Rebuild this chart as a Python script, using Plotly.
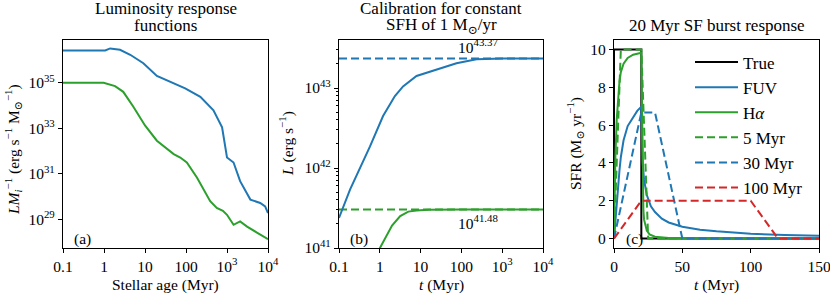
import numpy as np
import plotly.graph_objects as go

# ---------------- data ----------------
# Panel (a): luminosity response functions (log10 age [Myr], log10 L/M)
fuv_resp_logage = [-1.0, 0.03, 0.15, 0.39, 0.64, 0.96, 1.29, 1.61, 1.98, 2.35, 2.67, 2.88, 3.0, 3.16, 3.32, 3.57, 3.81, 3.93, 4.0]
fuv_resp_logL = [36.42, 36.42, 36.51, 36.45, 36.23, 35.86, 35.30, 35.04, 34.75, 34.38, 33.79, 33.04, 31.71, 31.49, 30.67, 29.86, 29.71, 29.56, 29.27]
ha_resp_logage = [-1.0, -0.01, 0.27, 0.47, 0.72, 1.0, 1.29, 1.53, 1.70, 1.86, 2.02, 2.27, 2.43, 2.59, 2.75, 2.90, 3.0, 3.16, 3.32, 3.49, 3.73, 3.97, 4.0]
ha_resp_logL = [35.0, 35.0, 34.85, 34.6, 33.93, 33.12, 32.45, 32.08, 31.86, 31.71, 31.49, 30.82, 30.30, 29.79, 29.49, 29.37, 29.19, 28.75, 28.90, 28.67, 28.41, 28.16, 28.12]

# Panel (b): cumulative luminosity for constant SFH (log10 t [Myr], log10 L)
fuv_cum_logt = [-1.0, -0.73, -0.24, 0.08, 0.37, 0.57, 0.90, 1.39, 1.88, 2.37, 3.02, 4.0]
fuv_cum_logL = [41.375, 41.73, 42.27, 42.65, 42.90, 43.02, 43.15, 43.23, 43.31, 43.36, 43.37, 43.37]
ha_cum_logt = [-0.05, 0.0, 0.15, 0.3, 0.5, 0.7, 0.9, 1.2, 2.0, 4.0]
ha_cum_logL = [40.95, 41.0, 41.15, 41.28, 41.40, 41.455, 41.47, 41.478, 41.48, 41.48]
fuv_calib_log = 43.37
ha_calib_log = 41.48
calib_t = [0.1, 1e4]

# Panel (c): 20 Myr burst response
true_t = [0, 0, 20, 20, 150]
true_sfr = [0, 10, 10, 0, 0]
fuv_t = [0, 1, 2, 3, 4, 5, 7, 10, 14, 17, 20, 20.5, 21, 22, 24, 27, 30, 35, 40, 50, 63, 75, 100, 125, 150]
fuv_sfr = [0, 1.0, 1.9, 2.7, 3.6, 4.3, 5.2, 5.95, 6.45, 6.75, 6.97, 5.0, 4.0, 3.1, 2.3, 1.7, 1.4, 1.05, 0.85, 0.62, 0.47, 0.38, 0.25, 0.19, 0.15]
ha_t = [0, 0.5, 1, 2, 3, 4, 5, 7, 10, 14, 20, 20.5, 21, 21.5, 22, 23, 24, 26, 30, 40, 60, 150]
ha_sfr = [0, 2.5, 4.3, 6.3, 7.5, 8.3, 8.8, 9.25, 9.55, 9.72, 9.82, 7.0, 3.0, 1.5, 1.0, 0.6, 0.42, 0.22, 0.1, 0.03, 0.01, 0.0]
avg5_t = [0, 5, 20, 25, 150]
avg5_sfr = [0, 10, 10, 0, 0]
avg30_t = [0, 20, 30, 50, 150]
avg30_sfr = [0, 6.67, 6.67, 0, 0]
avg100_t = [0, 20, 100, 120, 150]
avg100_sfr = [0, 2, 2, 0, 0]

log_x_ticks = [0.1, 1.0, 10.0, 100.0, 1000.0, 10000.0]
log_x_ticktext = ["0.1", "1", "10", "100", "10<sup>3</sup>", "10<sup>4</sup>"]
a_y_ticks = [1e29, 1e31, 1e33, 1e35]
a_y_ticktext = ["10<sup>29</sup>", "10<sup>31</sup>", "10<sup>33</sup>", "10<sup>35</sup>"]
b_y_ticks = [1e41, 1e42, 1e43]
b_y_ticktext = ["10<sup>41</sup>", "10<sup>42</sup>", "10<sup>43</sup>"]
b_y_minor = [float(k) * 10.0 ** e for e in (41, 42, 43) for k in range(2, 10)]

# ---------------- style ----------------
BLUE = "#1f77b4"
GREEN = "#2ca02c"
RED = "#d62728"
FONT = "Liberation Serif, Times New Roman, DejaVu Serif, serif"
W, H = 830, 296
LW = 2
DASH = "8px,4px"

def px_x(p):
    return p / W

def px_y(p):
    return 1 - p / H

fig = go.Figure()

def pw(a):
    return [10.0 ** v for v in a]

# panel a
fig.add_trace(go.Scatter(x=pw(fuv_resp_logage), y=pw(fuv_resp_logL), mode="lines",
                         line=dict(color=BLUE, width=LW), xaxis="x", yaxis="y", showlegend=False))
fig.add_trace(go.Scatter(x=pw(ha_resp_logage), y=pw(ha_resp_logL), mode="lines",
                         line=dict(color=GREEN, width=LW), xaxis="x", yaxis="y", showlegend=False))

# panel b
fig.add_trace(go.Scatter(x=calib_t, y=[10.0 ** fuv_calib_log] * 2, mode="lines",
                         line=dict(color=BLUE, width=LW, dash=DASH), xaxis="x2", yaxis="y2", showlegend=False))
fig.add_trace(go.Scatter(x=calib_t, y=[10.0 ** ha_calib_log] * 2, mode="lines",
                         line=dict(color=GREEN, width=LW, dash=DASH), xaxis="x2", yaxis="y2", showlegend=False))
fig.add_trace(go.Scatter(x=pw(fuv_cum_logt), y=pw(fuv_cum_logL), mode="lines",
                         line=dict(color=BLUE, width=LW), xaxis="x2", yaxis="y2", showlegend=False))
fig.add_trace(go.Scatter(x=pw(ha_cum_logt), y=pw(ha_cum_logL), mode="lines",
                         line=dict(color=GREEN, width=LW), xaxis="x2", yaxis="y2", showlegend=False))

# panel c
series_c = [
    ("True", true_t, true_sfr, "black", "solid"),
    ("FUV", fuv_t, fuv_sfr, BLUE, "solid"),
    ("H<i>α</i>", ha_t, ha_sfr, GREEN, "solid"),
    ("5 Myr", avg5_t, avg5_sfr, GREEN, DASH),
    ("30 Myr", avg30_t, avg30_sfr, BLUE, DASH),
    ("100 Myr", avg100_t, avg100_sfr, RED, DASH),
]
for i, (name, t, s, c, d) in enumerate(series_c):
    fig.add_trace(go.Scatter(x=t, y=s, mode="lines", name=name,
                             line=dict(color=c, width=LW, dash=d), xaxis="x3", yaxis="y3"))

axis_common = dict(showline=True, mirror=True, linecolor="black", linewidth=1.3,
                   ticks="outside", ticklen=4, tickwidth=1, tickcolor="black",
                   showgrid=False, zeroline=False, automargin=False,
                   ticklabeloverflow="allow",
                   tickfont=dict(family=FONT, size=15.5, color="black"))

top, bottom = 40, 248
ydom = [px_y(bottom), px_y(top)]
panels = [(63, 268), (339, 543), (614, 819)]

fig.update_layout(
    width=W, height=H, margin=dict(l=0, r=0, t=0, b=0),
    paper_bgcolor="white", plot_bgcolor="white",
    font=dict(family=FONT, color="black"),
    xaxis=dict(domain=[px_x(panels[0][0]), px_x(panels[0][1])], type="log", range=[-1, 4],
               tickvals=log_x_ticks, ticktext=log_x_ticktext, anchor="y", **axis_common),
    yaxis=dict(domain=ydom, type="log", range=[27.73, 36.88],
               tickvals=a_y_ticks, ticktext=a_y_ticktext, anchor="x", **axis_common),
    xaxis2=dict(domain=[px_x(panels[1][0]), px_x(panels[1][1])], type="log", range=[-1, 4],
                tickvals=log_x_ticks, ticktext=log_x_ticktext, anchor="y2", **axis_common),
    yaxis2=dict(domain=ydom, type="log", range=[41, 43.6],
                tickvals=b_y_ticks, ticktext=b_y_ticktext, anchor="x2",
                minor=dict(ticks="outside", ticklen=2, tickcolor="black", showgrid=False,
                           tickvals=b_y_minor),
                **axis_common),
    xaxis3=dict(domain=[px_x(panels[2][0]), px_x(panels[2][1])], range=[0, 150],
                tickvals=[0, 50, 100, 150], anchor="y3", **axis_common),
    yaxis3=dict(domain=ydom, range=[-0.5, 10.5], tickvals=[0, 2, 4, 6, 8, 10], anchor="x3", **axis_common),
    legend=dict(x=px_x(690), y=px_y(44.5), xanchor="left", yanchor="top",
                bgcolor="rgba(0,0,0,0)", font=dict(family=FONT, size=17, color="black"),
                tracegroupgap=0, itemwidth=43),
)

ann = []
def text(x, y, s, size=15.5, xanchor="center", yanchor="middle", angle=0, xref="paper", yref="paper"):
    ann.append(dict(x=x, y=y, text=s, showarrow=False, xref=xref, yref=yref,
                    xanchor=xanchor, yanchor=yanchor, textangle=angle,
                    font=dict(family=FONT, size=size, color="black")))

# titles
text(px_x(165.5), px_y(8.5), "Luminosity response", size=17)
text(px_x(165.5), px_y(26), "functions", size=17)
text(px_x(441), px_y(8.5), "Calibration for constant", size=17)
text(px_x(441), px_y(26), "SFH of 1 M<sub>⊙</sub>/yr", size=17)
text(px_x(716.5), px_y(26), "20 Myr SF burst response", size=17)

# x-axis titles
text(px_x(165.5), px_y(285), "Stellar age (Myr)")
text(px_x(441), px_y(285), "<i>t</i> (Myr)")
text(px_x(716.5), px_y(285), "<i>t</i> (Myr)")

# y-axis titles
text(px_x(13), px_y(150), "<i>LM</i><sub><i>i</i></sub><sup>−1</sup> (erg s<sup>−1</sup> M<sub>⊙</sub><sup>−1</sup>)", angle=-90)
text(px_x(286), px_y(144), "<i>L</i> (erg s<sup>−1</sup>)", angle=-90)
text(px_x(575), px_y(144), "SFR (M<sub>⊙</sub> yr<sup>−1</sup>)", angle=-90)

# panel labels
text(px_x(72), px_y(239), "(a)", xanchor="left")
text(px_x(348), px_y(239), "(b)", xanchor="left")
text(px_x(624), px_y(239), "(c)", xanchor="left")

# calibration values
text(float(np.log10(257)), fuv_calib_log, "10<sup>43.37</sup>", yanchor="bottom", xref="x2", yref="y2")
text(float(np.log10(257)), ha_calib_log, "10<sup>41.48</sup>", yanchor="top", xref="x2", yref="y2")

fig.update_layout(annotations=ann)
fig.write_html("out.html", config={"displayModeBar": False},
               post_script="document.body.style.margin='0px';")
